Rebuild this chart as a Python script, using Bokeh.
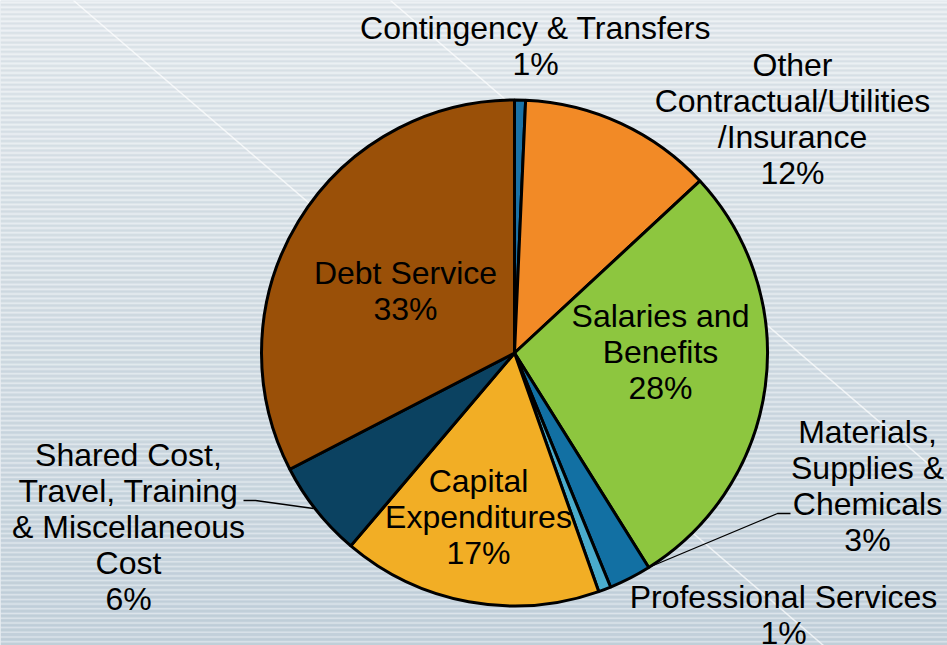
import numpy as np
from bokeh.plotting import figure
from bokeh.models import Range1d
from bokeh.core.properties import value
from bokeh.embed import file_html
from bokeh.resources import INLINE

# ---- data ----
categories = ["Contingency & Transfers",
              "Other Contractual/Utilities/Insurance",
              "Salaries and Benefits",
              "Materials, Supplies & Chemicals",
              "Professional Services",
              "Capital Expenditures",
              "Shared Cost, Travel, Training & Miscellaneous Cost",
              "Debt Service"]
shares = [0.7, 12.4, 28.0, 2.7, 0.8, 16.6, 6.2, 32.6]
label_texts = ["Contingency & Transfers",
               "Other\nContractual/Utilities\n/Insurance",
               "Salaries and\nBenefits",
               "Materials,\nSupplies &\nChemicals",
               "Professional Services",
               "Capital\nExpenditures",
               "Shared Cost,\nTravel, Training\n& Miscellaneous\nCost",
               "Debt Service"]
colors = ["#1b72a6", "#f28a26", "#8dc63f", "#1270a3", "#4aaccc",
          "#f2ae25", "#0b4261", "#9a5008"]

# ---- layout (reference pixel coords, y downward) ----
W, H = 947, 645
CX, CY, R = 514, 352.5, 253
label_pos = [(535, 45), (792, 118), (660, 351), (867, 485),
             (783, 614), (478, 516), (128, 526), (405, 290)]

def fy(y):
    return H - y

p = figure(width=W, height=H, x_range=Range1d(0, W), y_range=Range1d(0, H),
           output_backend="svg", toolbar_location=None, min_border=0)
p.axis.visible = False
p.grid.visible = False
p.outline_line_color = None
p.background_fill_color = "#dbe3e9"
p.border_fill_color = "#dbe3e9"

# background gradient
nb = 60
edges = np.linspace(0, H, nb + 1)
top_c = np.array([229, 235, 239])
bot_c = np.array([196, 210, 220])
bcols = []
for i in range(nb):
    t = (i + 0.5) / nb
    c = (top_c * (1 - t) + bot_c * t).astype(int)
    bcols.append("#%02x%02x%02x" % tuple(c))
p.quad(left=0, right=W, top=[fy(e) for e in edges[:-1]], bottom=[fy(e) for e in edges[1:]],
       fill_color=bcols, line_color=None)
# stripes
sy = np.arange(2, H, 4.7)
p.segment(x0=0, x1=W, y0=[fy(v) for v in sy], y1=[fy(v) for v in sy],
          line_color="white", line_alpha=0.35, line_width=1.5)
p.segment(x0=0, x1=W, y0=[fy(v + 2.3) for v in sy], y1=[fy(v + 2.3) for v in sy],
          line_color="#9fb3c2", line_alpha=0.15, line_width=1.5)
# diagonal light lines
p.segment(x0=[73, 390], y0=[fy(0), fy(0)], x1=[823, 947], y1=[fy(645), fy(480)],
          line_color="white", line_alpha=0.7, line_width=1.5)

# pie
fr = np.array(shares) / sum(shares)
cum = np.concatenate([[0], np.cumsum(fr)])
start = np.pi / 2 - 2 * np.pi * cum[:-1]
end = np.pi / 2 - 2 * np.pi * cum[1:]
p.wedge(x=CX, y=fy(CY), radius=R, start_angle=start, end_angle=end, direction="clock",
        fill_color=colors, line_color="black", line_width=3)

# leader lines
p.line([243, 255, 313], [fy(500), fy(500), fy(508)], line_color="black", line_width=1.3)
p.line([790, 777, 648], [fy(513), fy(513), fy(567)], line_color="black", line_width=1.3)

# labels
texts = [f"{t}\n{int(round(s))}%" for t, s in zip(label_texts, shares)]
p.text(x=[q[0] for q in label_pos], y=[fy(q[1]) for q in label_pos], text=texts,
       text_align="center", text_baseline="middle", text_font=value("Liberation Sans"),
       text_font_size="32px", text_color="black", text_line_height=1.0)

open("out.html", "w").write(file_html(p, INLINE))
